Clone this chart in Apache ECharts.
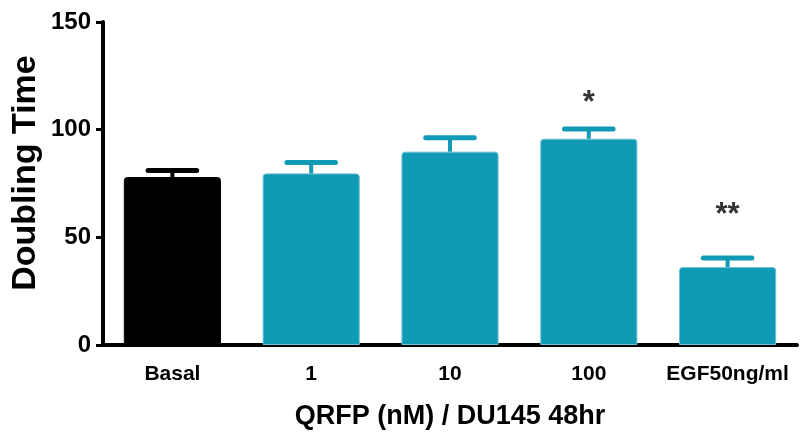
<!DOCTYPE html>
<html><head><meta charset="utf-8">
<script src="https://cdn.jsdelivr.net/npm/echarts@6/dist/echarts.min.js"></script>
<style>html,body{margin:0;padding:0;background:#fff}#c{width:800px;height:432px}</style>
</head><body><div id="c"></div>
<script>
const categories = ['Basal', '1', '10', '100', 'EGF50ng/ml'];
const means = [78, 79.7, 89.8, 95.8, 36.2];
const errUpper = [81, 84.7, 96.3, 100.3, 40.4];
const sigLabels = ['', '', '', '*', '**'];
const sigY = [null, null, null, 114, 62];
const yTicks = [0, 50, 100, 150];

const TEAL = '#119AB5';
const FONT = '"Liberation Sans", Arial, sans-serif';
const chart = echarts.init(document.getElementById('c'));
chart.setOption({
  animation: false,
  grid: { left: 103, right: 3, top: 22, bottom: 87, outerBoundsMode: 'none', containLabel: false },
  graphic: [{
    type: 'text', x: 26, y: 173, rotation: Math.PI / 2,
    style: { text: 'Doubling Time', fontFamily: FONT, fontWeight: 'bold', fontSize: 34, fill: '#000', align: 'center', verticalAlign: 'middle' }
  }],
  xAxis: {
    type: 'category', data: categories,
    name: 'QRFP (nM) / DU145 48hr', nameLocation: 'middle', nameGap: 58,
    nameTextStyle: { fontFamily: FONT, fontWeight: 'bold', fontSize: 27, color: '#000' },
    axisLine: { lineStyle: { color: '#000', width: 4 } },
    axisTick: { alignWithLabel: true, length: 7, lineStyle: { color: '#000', width: 3 } },
    axisLabel: { interval: 0, hideOverlap: false, fontFamily: FONT, fontWeight: 'bold', fontSize: 21, color: '#000', margin: 19 }
  },
  yAxis: {
    type: 'value', min: yTicks[0], max: yTicks[yTicks.length - 1], interval: 50,
    axisLine: { show: true, lineStyle: { color: '#000', width: 4 } },
    axisTick: { show: true, length: 7, lineStyle: { color: '#000', width: 3 } },
    axisLabel: { fontFamily: FONT, fontWeight: 'bold', fontSize: 24, color: '#000', margin: 12 },
    splitLine: { show: false }
  },
  series: [
    {
      type: 'bar', barWidth: '70%', z: 2,
      data: means.map((v, i) => ({
        value: v,
        itemStyle: { color: i === 0 ? '#000' : TEAL, borderColor: i === 0 ? '#000' : '#6cc3d3', borderWidth: 1, borderRadius: [3, 3, 0, 0] }
      }))
    },
    {
      type: 'custom', z: 3,
      data: means.map((m, i) => [i, m, errUpper[i]]),
      renderItem: function (params, api) {
        const x = api.value(0);
        const base = api.coord([x, api.value(1)]);
        const top = api.coord([x, api.value(2)]);
        const bw = api.size([1, 0])[0] * 0.7;
        const half = bw * 0.25;
        const col = params.dataIndex === 0 ? '#000' : TEAL;
        return {
          type: 'group',
          children: [
            { type: 'line', shape: { x1: base[0], y1: base[1], x2: top[0], y2: top[1] }, style: { stroke: col, lineWidth: 4 } },
            { type: 'line', shape: { x1: top[0] - half, y1: top[1], x2: top[0] + half, y2: top[1] }, style: { stroke: col, lineWidth: 5, lineCap: 'round' } }
          ]
        };
      }
    },
    {
      type: 'scatter', symbolSize: 0, z: 4, silent: true,
      data: sigY.map((v, i) => v == null ? null : { value: [i, v], label: { show: true, formatter: sigLabels[i] } }).filter(d => d),
      label: { show: true, position: 'inside', offset: [0, 4], fontFamily: FONT, fontWeight: 'bold', fontSize: 31, color: '#000' }
    }
  ]
});
</script></body></html>
